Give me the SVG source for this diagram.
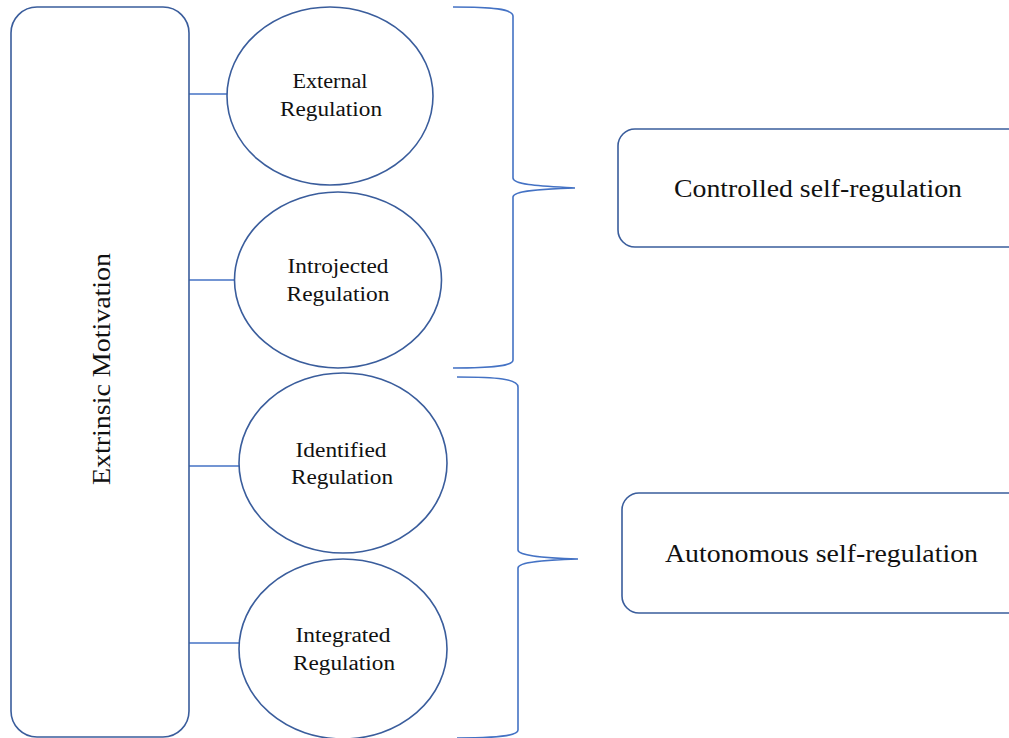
<svg xmlns="http://www.w3.org/2000/svg" width="1009" height="738" viewBox="0 0 1009 738">
<style>
.node{fill:#fff;stroke:#3A5D9C;stroke-width:1.6}
.conn{fill:none;stroke:#4472C4;stroke-width:1.6}
.t{font-family:"Liberation Serif","Times New Roman",serif;fill:#111;text-anchor:middle}
.s{font-size:20px}
.b{font-size:25px}
</style>
<rect width="1009" height="738" fill="#fff"/>
<g id="connectors">
<line class="conn" x1="189" y1="94" x2="227" y2="94"/>
<line class="conn" x1="189" y1="280" x2="235" y2="280"/>
<line class="conn" x1="189" y1="466" x2="239" y2="466"/>
<line class="conn" x1="189" y1="643" x2="240" y2="643"/>
<path class="conn" d="M453,7 C492,7 513,9 513,16 L513,178 C513,185 542,186 575,188 C542,189 513,191 513,197 L513,360 C513,366 492,368 453,368"/>
<path class="conn" d="M457,377 C497,377 518,379 518,387 L518,550 C518,556 547,558 578,559 C547,560 518,562 518,568 L518,730 C518,736 497,738 457,738"/>
</g>
<g id="extrinsic">
<rect class="node" x="11" y="7" width="178" height="730" rx="26"/>
<text class="t b" transform="translate(110,369) rotate(-90)" textLength="232" lengthAdjust="spacingAndGlyphs">Extrinsic Motivation</text>
</g>
<g id="external">
<ellipse class="node" cx="330" cy="96" rx="103" ry="89"/>
<text class="t s" x="330" y="88" textLength="75" lengthAdjust="spacingAndGlyphs">External</text>
<text class="t s" x="331" y="116" textLength="102" lengthAdjust="spacingAndGlyphs">Regulation</text>
</g>
<g id="introjected">
<ellipse class="node" cx="338" cy="280" rx="103.5" ry="88"/>
<text class="t s" x="338" y="273" textLength="101" lengthAdjust="spacingAndGlyphs">Introjected</text>
<text class="t s" x="338" y="301" textLength="103" lengthAdjust="spacingAndGlyphs">Regulation</text>
</g>
<g id="identified">
<ellipse class="node" cx="343" cy="463" rx="104" ry="90"/>
<text class="t s" x="341" y="457" textLength="91" lengthAdjust="spacingAndGlyphs">Identified</text>
<text class="t s" x="342" y="484" textLength="102" lengthAdjust="spacingAndGlyphs">Regulation</text>
</g>
<g id="integrated">
<ellipse class="node" cx="343" cy="649" rx="104" ry="90"/>
<text class="t s" x="343" y="642" textLength="95" lengthAdjust="spacingAndGlyphs">Integrated</text>
<text class="t s" x="344" y="670" textLength="102" lengthAdjust="spacingAndGlyphs">Regulation</text>
</g>
<g id="controlled">
<rect class="node" x="618" y="129" width="410" height="118" rx="17"/>
<text class="t b" x="818" y="197" textLength="288" lengthAdjust="spacingAndGlyphs">Controlled self-regulation</text>
</g>
<g id="autonomous">
<rect class="node" x="622" y="493" width="410" height="120" rx="17"/>
<text class="t b" x="821.5" y="562" textLength="313" lengthAdjust="spacingAndGlyphs">Autonomous self-regulation</text>
</g>
</svg>
